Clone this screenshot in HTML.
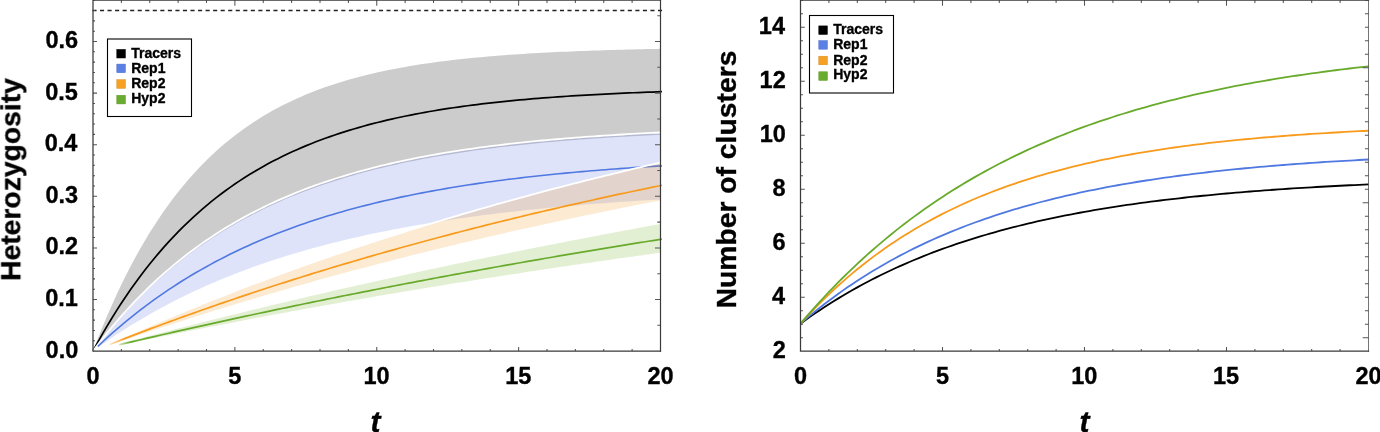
<!DOCTYPE html>
<html><head><meta charset="utf-8"><style>
html,body{margin:0;padding:0;background:#fff;width:1380px;height:432px;overflow:hidden}
svg{display:block}
text{font-family:"Liberation Sans",sans-serif}
</style></head><body>
<svg width="1380" height="432" viewBox="0 0 1380 432">
<rect width="1380" height="432" fill="#fff"/>
<g>
<polygon points="93.00,351.00 97.73,338.76 102.46,327.01 107.19,315.73 111.92,304.91 116.65,294.52 121.38,284.55 126.10,274.98 130.83,265.80 135.56,256.98 140.29,248.52 145.02,240.40 149.75,232.61 154.48,225.13 159.21,217.95 163.94,211.06 168.67,204.44 173.40,198.10 178.12,192.00 182.85,186.16 187.58,180.55 192.31,175.16 197.04,169.99 201.77,165.03 206.50,160.27 211.23,155.70 215.96,151.31 220.69,147.10 225.42,143.06 230.15,139.18 234.88,135.46 239.60,131.88 244.33,128.46 249.06,125.16 253.79,122.01 258.52,118.97 263.25,116.06 267.98,113.27 272.71,110.59 277.44,108.02 282.17,105.55 286.90,103.18 291.62,100.90 296.35,98.72 301.08,96.63 305.81,94.62 310.54,92.69 315.27,90.83 320.00,89.05 324.73,87.35 329.46,85.71 334.19,84.14 338.92,82.63 343.65,81.18 348.38,79.79 353.10,78.46 357.83,77.18 362.56,75.95 367.29,74.77 372.02,73.64 376.75,72.55 381.48,71.51 386.21,70.51 390.94,69.55 395.67,68.63 400.40,67.74 405.12,66.89 409.85,66.08 414.58,65.29 419.31,64.54 424.04,63.82 428.77,63.13 433.50,62.47 438.23,61.83 442.96,61.22 447.69,60.63 452.42,60.07 457.15,59.53 461.88,59.01 466.60,58.51 471.33,58.03 476.06,57.57 480.79,57.13 485.52,56.71 490.25,56.31 494.98,55.92 499.71,55.54 504.44,55.18 509.17,54.84 513.90,54.51 518.62,54.19 523.35,53.89 528.08,53.60 532.81,53.32 537.54,53.05 542.27,52.79 547.00,52.54 551.73,52.30 556.46,52.07 561.19,51.86 565.92,51.65 570.65,51.44 575.38,51.25 580.10,51.06 584.83,50.89 589.56,50.71 594.29,50.55 599.02,50.39 603.75,50.24 608.48,50.09 613.21,49.96 617.94,49.82 622.67,49.69 627.40,49.57 632.12,49.45 636.85,49.34 641.58,49.23 646.31,49.12 651.04,49.02 655.77,48.93 660.50,48.83 660.50,134.78 655.77,135.00 651.04,135.23 646.31,135.47 641.58,135.71 636.85,135.96 632.12,136.22 627.40,136.49 622.67,136.76 617.94,137.04 613.21,137.33 608.48,137.62 603.75,137.93 599.02,138.24 594.29,138.56 589.56,138.89 584.83,139.23 580.10,139.58 575.38,139.94 570.65,140.31 565.92,140.69 561.19,141.08 556.46,141.49 551.73,141.90 547.00,142.32 542.27,142.76 537.54,143.21 532.81,143.68 528.08,144.15 523.35,144.64 518.62,145.14 513.90,145.66 509.17,146.19 504.44,146.74 499.71,147.30 494.98,147.88 490.25,148.48 485.52,149.09 480.79,149.72 476.06,150.36 471.33,151.03 466.60,151.71 461.88,152.42 457.15,153.14 452.42,153.88 447.69,154.65 442.96,155.43 438.23,156.24 433.50,157.07 428.77,157.93 424.04,158.81 419.31,159.71 414.58,160.64 409.85,161.60 405.12,162.58 400.40,163.59 395.67,164.63 390.94,165.70 386.21,166.80 381.48,167.93 376.75,169.09 372.02,170.28 367.29,171.51 362.56,172.77 357.83,174.07 353.10,175.41 348.38,176.78 343.65,178.19 338.92,179.64 334.19,181.13 329.46,182.67 324.73,184.25 320.00,185.87 315.27,187.54 310.54,189.25 305.81,191.02 301.08,192.83 296.35,194.69 291.62,196.61 286.90,198.58 282.17,200.61 277.44,202.69 272.71,204.84 267.98,207.04 263.25,209.30 258.52,211.63 253.79,214.03 249.06,216.49 244.33,219.02 239.60,221.62 234.88,224.29 230.15,227.04 225.42,229.87 220.69,232.78 215.96,235.77 211.23,238.84 206.50,242.00 201.77,245.24 197.04,248.58 192.31,252.02 187.58,255.54 182.85,259.17 178.12,262.90 173.40,266.73 168.67,270.67 163.94,274.72 159.21,278.89 154.48,283.17 149.75,287.57 145.02,292.09 140.29,296.74 135.56,301.52 130.83,306.43 126.10,311.48 121.38,316.67 116.65,322.01 111.92,327.49 107.19,333.13 102.46,338.92 97.73,344.88 93.00,351.00" fill="#000" fill-opacity="0.2"/>
<polyline points="93.00,351.00 97.74,342.32 102.48,333.93 107.22,325.81 111.96,317.96 116.70,310.36 121.45,303.02 126.19,295.92 130.93,289.05 135.67,282.41 140.41,275.98 145.15,269.77 149.89,263.76 154.63,257.95 159.37,252.33 164.11,246.89 168.86,241.63 173.60,236.55 178.34,231.63 183.08,226.87 187.82,222.27 192.56,217.82 197.30,213.52 202.04,209.36 206.78,205.34 211.52,201.44 216.27,197.68 221.01,194.04 225.75,190.52 230.49,187.11 235.23,183.82 239.97,180.64 244.71,177.56 249.45,174.58 254.19,171.70 258.93,168.91 263.68,166.21 268.42,163.61 273.16,161.09 277.90,158.65 282.64,156.29 287.38,154.01 292.12,151.81 296.86,149.67 301.60,147.61 306.34,145.62 311.09,143.69 315.83,141.82 320.57,140.02 325.31,138.27 330.05,136.58 334.79,134.95 339.53,133.37 344.27,131.84 349.01,130.37 353.75,128.94 358.50,127.56 363.24,126.22 367.98,124.93 372.72,123.68 377.46,122.47 382.20,121.30 386.94,120.17 391.68,119.08 396.42,118.02 401.16,117.00 405.91,116.01 410.65,115.06 415.39,114.13 420.13,113.24 424.87,112.37 429.61,111.53 434.35,110.72 439.09,109.94 443.83,109.19 448.57,108.45 453.32,107.75 458.06,107.06 462.80,106.40 467.54,105.76 472.28,105.14 477.02,104.54 481.76,103.96 486.50,103.40 491.24,102.86 495.98,102.33 500.73,101.83 505.47,101.34 510.21,100.86 514.95,100.40 519.69,99.96 524.43,99.53 529.17,99.12 533.91,98.72 538.65,98.33 543.39,97.95 548.13,97.59 552.88,97.24 557.62,96.90 562.36,96.57 567.10,96.25 571.84,95.95 576.58,95.65 581.32,95.36 586.06,95.08 590.80,94.82 595.54,94.56 600.29,94.30 605.03,94.06 609.77,93.83 614.51,93.60 619.25,93.38 623.99,93.17 628.73,92.96 633.47,92.76 638.21,92.57 642.95,92.38 647.70,92.20 652.44,92.03 657.18,91.86 661.92,91.70" fill="none" stroke="#000" stroke-width="1.7"/>
<polygon points="97.82,344.63 102.51,338.62 107.20,332.77 111.89,327.07 116.58,321.54 121.27,316.15 125.96,310.91 130.65,305.82 135.34,300.86 140.02,296.05 144.71,291.36 149.40,286.80 154.09,282.36 158.78,278.05 163.47,273.85 168.16,269.77 172.85,265.80 177.54,261.94 182.23,258.19 186.91,254.53 191.60,250.98 196.29,247.53 200.98,244.16 205.67,240.90 210.36,237.72 215.05,234.62 219.74,231.61 224.43,228.69 229.11,225.84 233.80,223.07 238.49,220.38 243.18,217.76 247.87,215.22 252.56,212.74 257.25,210.33 261.94,207.99 266.63,205.71 271.32,203.49 276.00,201.33 280.69,199.23 285.38,197.19 290.07,195.21 294.76,193.28 299.45,191.40 304.14,189.57 308.83,187.80 313.52,186.07 318.21,184.39 322.89,182.75 327.58,181.16 332.27,179.62 336.96,178.11 341.65,176.65 346.34,175.23 351.03,173.84 355.72,172.50 360.41,171.19 365.09,169.92 369.78,168.68 374.47,167.47 379.16,166.30 383.85,165.16 388.54,164.05 393.23,162.97 397.92,161.92 402.61,160.90 407.30,159.91 411.98,158.95 416.67,158.01 421.36,157.09 426.05,156.21 430.74,155.34 435.43,154.50 440.12,153.68 444.81,152.89 449.50,152.12 454.19,151.36 458.87,150.63 463.56,149.92 468.25,149.23 472.94,148.56 477.63,147.90 482.32,147.26 487.01,146.65 491.70,146.04 496.39,145.46 501.08,144.89 505.76,144.33 510.45,143.79 515.14,143.27 519.83,142.76 524.52,142.26 529.21,141.78 533.90,141.31 538.59,140.85 543.28,140.41 547.96,139.98 552.65,139.56 557.34,139.15 562.03,138.75 566.72,138.37 571.41,137.99 576.10,137.62 580.79,137.27 585.48,136.92 590.17,136.59 594.85,136.26 599.54,135.94 604.23,135.63 608.92,135.33 613.61,135.04 618.30,134.75 622.99,134.47 627.68,134.20 632.37,133.94 637.06,133.69 641.74,133.44 646.43,133.20 651.12,132.96 655.81,132.73 660.50,132.51 660.50,199.39 655.81,199.67 651.12,199.95 646.43,200.24 641.74,200.54 637.06,200.84 632.37,201.15 627.68,201.47 622.99,201.79 618.30,202.12 613.61,202.45 608.92,202.80 604.23,203.15 599.54,203.51 594.85,203.87 590.17,204.24 585.48,204.62 580.79,205.01 576.10,205.41 571.41,205.82 566.72,206.23 562.03,206.65 557.34,207.09 552.65,207.53 547.96,207.98 543.28,208.44 538.59,208.90 533.90,209.38 529.21,209.87 524.52,210.37 519.83,210.88 515.14,211.40 510.45,211.94 505.76,212.48 501.08,213.03 496.39,213.60 491.70,214.18 487.01,214.77 482.32,215.37 477.63,215.98 472.94,216.61 468.25,217.25 463.56,217.91 458.87,218.58 454.19,219.26 449.50,219.96 444.81,220.67 440.12,221.40 435.43,222.14 430.74,222.90 426.05,223.67 421.36,224.46 416.67,225.27 411.98,226.09 407.30,226.93 402.61,227.79 397.92,228.67 393.23,229.56 388.54,230.48 383.85,231.41 379.16,232.36 374.47,233.34 369.78,234.33 365.09,235.35 360.41,236.38 355.72,237.44 351.03,238.52 346.34,239.62 341.65,240.75 336.96,241.90 332.27,243.07 327.58,244.27 322.89,245.49 318.21,246.74 313.52,248.02 308.83,249.32 304.14,250.65 299.45,252.01 294.76,253.40 290.07,254.81 285.38,256.26 280.69,257.74 276.00,259.24 271.32,260.78 266.63,262.35 261.94,263.96 257.25,265.60 252.56,267.27 247.87,268.98 243.18,270.72 238.49,272.50 233.80,274.32 229.11,276.18 224.43,278.07 219.74,280.01 215.05,281.99 210.36,284.00 205.67,286.06 200.98,288.17 196.29,290.32 191.60,292.51 186.91,294.75 182.23,297.04 177.54,299.37 172.85,301.76 168.16,304.19 163.47,306.68 158.78,309.21 154.09,311.80 149.40,314.45 144.71,317.15 140.02,319.91 135.34,322.73 130.65,325.60 125.96,328.54 121.27,331.54 116.58,334.60 111.89,337.73 107.20,340.92 102.51,344.18 97.82,347.50" fill="#5f73e1" fill-opacity="0.2"/>
<polyline points="93.00,351.00 97.73,344.76 102.46,338.69 107.19,332.78 111.92,327.04 116.65,321.46 121.38,316.03 126.10,310.75 130.83,305.62 135.56,300.63 140.29,295.77 145.02,291.05 149.75,286.46 154.48,282.00 159.21,277.66 163.94,273.44 168.67,269.34 173.40,265.35 178.12,261.46 182.85,257.69 187.58,254.02 192.31,250.45 197.04,246.98 201.77,243.61 206.50,240.33 211.23,237.14 215.96,234.03 220.69,231.01 225.42,228.08 230.15,225.23 234.88,222.45 239.60,219.75 244.33,217.13 249.06,214.58 253.79,212.10 258.52,209.69 263.25,207.34 267.98,205.06 272.71,202.84 277.44,200.68 282.17,198.59 286.90,196.55 291.62,194.56 296.35,192.63 301.08,190.76 305.81,188.93 310.54,187.16 315.27,185.44 320.00,183.76 324.73,182.13 329.46,180.54 334.19,179.00 338.92,177.50 343.65,176.04 348.38,174.62 353.10,173.24 357.83,171.90 362.56,170.60 367.29,169.33 372.02,168.10 376.75,166.90 381.48,165.73 386.21,164.60 390.94,163.50 395.67,162.42 400.40,161.38 405.12,160.37 409.85,159.38 414.58,158.42 419.31,157.49 424.04,156.58 428.77,155.70 433.50,154.84 438.23,154.01 442.96,153.20 447.69,152.41 452.42,151.65 457.15,150.90 461.88,150.18 466.60,149.47 471.33,148.79 476.06,148.12 480.79,147.47 485.52,146.84 490.25,146.23 494.98,145.63 499.71,145.05 504.44,144.49 509.17,143.94 513.90,143.41 518.62,142.89 523.35,142.39 528.08,141.90 532.81,141.42 537.54,140.96 542.27,140.50 547.00,140.07 551.73,139.64 556.46,139.23 561.19,138.82 565.92,138.43 570.65,138.05 575.38,137.68 580.10,137.32 584.83,136.97 589.56,136.63 594.29,136.30 599.02,135.98 603.75,135.66 608.48,135.36 613.21,135.06 617.94,134.77 622.67,134.49 627.40,134.22 632.12,133.96 636.85,133.70 641.58,133.45 646.31,133.20 651.04,132.97 655.77,132.74 660.50,132.51" fill="none" stroke="#fff" stroke-width="1.8"/>
<polyline points="97.82,346.37 102.52,341.97 107.23,337.67 111.93,333.46 116.63,329.36 121.33,325.34 126.03,321.42 130.73,317.59 135.43,313.84 140.13,310.18 144.83,306.61 149.53,303.12 154.23,299.70 158.93,296.37 163.63,293.11 168.34,289.92 173.04,286.81 177.74,283.77 182.44,280.80 187.14,277.89 191.84,275.06 196.54,272.29 201.24,269.58 205.94,266.93 210.64,264.34 215.34,261.82 220.04,259.35 224.75,256.93 229.45,254.58 234.15,252.27 238.85,250.02 243.55,247.82 248.25,245.67 252.95,243.57 257.65,241.52 262.35,239.52 267.05,237.56 271.75,235.64 276.45,233.77 281.15,231.95 285.86,230.16 290.56,228.41 295.26,226.71 299.96,225.04 304.66,223.42 309.36,221.82 314.06,220.27 318.76,218.75 323.46,217.27 328.16,215.82 332.86,214.40 337.56,213.01 342.26,211.66 346.97,210.34 351.67,209.05 356.37,207.79 361.07,206.55 365.77,205.35 370.47,204.17 375.17,203.02 379.87,201.89 384.57,200.80 389.27,199.72 393.97,198.67 398.67,197.65 403.38,196.65 408.08,195.67 412.78,194.71 417.48,193.78 422.18,192.86 426.88,191.97 431.58,191.10 436.28,190.25 440.98,189.42 445.68,188.60 450.38,187.81 455.08,187.03 459.78,186.27 464.49,185.53 469.19,184.81 473.89,184.10 478.59,183.41 483.29,182.73 487.99,182.07 492.69,181.43 497.39,180.80 502.09,180.18 506.79,179.58 511.49,178.99 516.19,178.42 520.89,177.85 525.60,177.31 530.30,176.77 535.00,176.25 539.70,175.73 544.40,175.23 549.10,174.74 553.80,174.27 558.50,173.80 563.20,173.34 567.90,172.90 572.60,172.46 577.30,172.04 582.01,171.62 586.71,171.22 591.41,170.82 596.11,170.43 600.81,170.05 605.51,169.68 610.21,169.32 614.91,168.97 619.61,168.62 624.31,168.28 629.01,167.95 633.71,167.63 638.41,167.32 643.12,167.01 647.82,166.71 652.52,166.41 657.22,166.13 661.92,165.85" fill="none" stroke="#4f78e0" stroke-width="1.6"/>
<polygon points="110.03,343.26 114.61,341.21 119.20,339.16 123.79,337.12 128.37,335.10 132.96,333.09 137.55,331.09 142.14,329.10 146.72,327.12 151.31,325.15 155.90,323.19 160.49,321.25 165.07,319.31 169.66,317.39 174.25,315.47 178.83,313.57 183.42,311.67 188.01,309.79 192.60,307.92 197.18,306.06 201.77,304.21 206.36,302.36 210.95,300.53 215.53,298.71 220.12,296.90 224.71,295.10 229.29,293.31 233.88,291.53 238.47,289.76 243.06,287.99 247.64,286.24 252.23,284.50 256.82,282.77 261.41,281.05 265.99,279.33 270.58,277.63 275.17,275.93 279.75,274.25 284.34,272.57 288.93,270.91 293.52,269.25 298.10,267.60 302.69,265.96 307.28,264.33 311.87,262.71 316.45,261.10 321.04,259.50 325.63,257.90 330.21,256.32 334.80,254.74 339.39,253.17 343.98,251.61 348.56,250.06 353.15,248.52 357.74,246.99 362.33,245.46 366.91,243.95 371.50,242.44 376.09,240.94 380.68,239.45 385.26,237.97 389.85,236.49 394.44,235.02 399.02,233.57 403.61,232.11 408.20,230.67 412.79,229.24 417.37,227.81 421.96,226.39 426.55,224.98 431.14,223.58 435.72,222.18 440.31,220.79 444.90,219.41 449.48,218.04 454.07,216.68 458.66,215.32 463.25,213.97 467.83,212.63 472.42,211.29 477.01,209.97 481.60,208.65 486.18,207.33 490.77,206.03 495.36,204.73 499.94,203.44 504.53,202.16 509.12,200.88 513.71,199.61 518.29,198.35 522.88,197.09 527.47,195.84 532.06,194.60 536.64,193.36 541.23,192.14 545.82,190.91 550.40,189.70 554.99,188.49 559.58,187.29 564.17,186.10 568.75,184.91 573.34,183.73 577.93,182.55 582.52,181.38 587.10,180.22 591.69,179.07 596.28,177.92 600.87,176.77 605.45,175.64 610.04,174.51 614.63,173.38 619.21,172.27 623.80,171.15 628.39,170.05 632.98,168.95 637.56,167.86 642.15,166.77 646.74,165.69 651.33,164.61 655.91,163.54 660.50,162.48 660.50,200.40 655.91,201.28 651.33,202.17 646.74,203.07 642.15,203.97 637.56,204.87 632.98,205.78 628.39,206.70 623.80,207.61 619.21,208.54 614.63,209.46 610.04,210.39 605.45,211.33 600.87,212.27 596.28,213.22 591.69,214.17 587.10,215.12 582.52,216.08 577.93,217.04 573.34,218.01 568.75,218.99 564.17,219.97 559.58,220.95 554.99,221.94 550.40,222.93 545.82,223.93 541.23,224.93 536.64,225.94 532.06,226.95 527.47,227.97 522.88,228.99 518.29,230.02 513.71,231.05 509.12,232.09 504.53,233.13 499.94,234.18 495.36,235.23 490.77,236.29 486.18,237.35 481.60,238.42 477.01,239.50 472.42,240.58 467.83,241.66 463.25,242.75 458.66,243.85 454.07,244.95 449.48,246.05 444.90,247.17 440.31,248.28 435.72,249.41 431.14,250.53 426.55,251.67 421.96,252.81 417.37,253.95 412.79,255.10 408.20,256.26 403.61,257.42 399.02,258.59 394.44,259.76 389.85,260.94 385.26,262.13 380.68,263.32 376.09,264.51 371.50,265.72 366.91,266.93 362.33,268.14 357.74,269.36 353.15,270.59 348.56,271.82 343.98,273.06 339.39,274.30 334.80,275.55 330.21,276.81 325.63,278.07 321.04,279.34 316.45,280.62 311.87,281.90 307.28,283.19 302.69,284.48 298.10,285.79 293.52,287.09 288.93,288.41 284.34,289.73 279.75,291.05 275.17,292.39 270.58,293.73 265.99,295.07 261.41,296.43 256.82,297.79 252.23,299.15 247.64,300.53 243.06,301.91 238.47,303.29 233.88,304.69 229.29,306.09 224.71,307.49 220.12,308.91 215.53,310.33 210.95,311.76 206.36,313.19 201.77,314.64 197.18,316.09 192.60,317.54 188.01,319.01 183.42,320.48 178.83,321.96 174.25,323.44 169.66,324.93 165.07,326.43 160.49,327.94 155.90,329.46 151.31,330.98 146.72,332.51 142.14,334.05 137.55,335.59 132.96,337.15 128.37,338.71 123.79,340.27 119.20,341.85 114.61,343.43 110.03,345.02" fill="#f09b1e" fill-opacity="0.2"/>
<polyline points="110.03,343.26 114.61,341.21 119.20,339.16 123.79,337.12 128.37,335.10 132.96,333.09 137.55,331.09 142.14,329.10 146.72,327.12 151.31,325.15 155.90,323.19 160.49,321.25 165.07,319.31 169.66,317.39 174.25,315.47 178.83,313.57 183.42,311.67 188.01,309.79 192.60,307.92 197.18,306.06 201.77,304.21 206.36,302.36 210.95,300.53 215.53,298.71 220.12,296.90 224.71,295.10 229.29,293.31 233.88,291.53 238.47,289.76 243.06,287.99 247.64,286.24 252.23,284.50 256.82,282.77 261.41,281.05 265.99,279.33 270.58,277.63 275.17,275.93 279.75,274.25 284.34,272.57 288.93,270.91 293.52,269.25 298.10,267.60 302.69,265.96 307.28,264.33 311.87,262.71 316.45,261.10 321.04,259.50 325.63,257.90 330.21,256.32 334.80,254.74 339.39,253.17 343.98,251.61 348.56,250.06 353.15,248.52 357.74,246.99 362.33,245.46 366.91,243.95 371.50,242.44 376.09,240.94 380.68,239.45 385.26,237.97 389.85,236.49 394.44,235.02 399.02,233.57 403.61,232.11 408.20,230.67 412.79,229.24 417.37,227.81 421.96,226.39 426.55,224.98 431.14,223.58 435.72,222.18 440.31,220.79 444.90,219.41 449.48,218.04 454.07,216.68 458.66,215.32 463.25,213.97 467.83,212.63 472.42,211.29 477.01,209.97 481.60,208.65 486.18,207.33 490.77,206.03 495.36,204.73 499.94,203.44 504.53,202.16 509.12,200.88 513.71,199.61 518.29,198.35 522.88,197.09 527.47,195.84 532.06,194.60 536.64,193.36 541.23,192.14 545.82,190.91 550.40,189.70 554.99,188.49 559.58,187.29 564.17,186.10 568.75,184.91 573.34,183.73 577.93,182.55 582.52,181.38 587.10,180.22 591.69,179.07 596.28,177.92 600.87,176.77 605.45,175.64 610.04,174.51 614.63,173.38 619.21,172.27 623.80,171.15 628.39,170.05 632.98,168.95 637.56,167.86 642.15,166.77 646.74,165.69 651.33,164.61 655.91,163.54 660.50,162.48" fill="none" stroke="#fff" stroke-width="1.8"/>
<defs><linearGradient id="go" gradientUnits="userSpaceOnUse" x1="110.0" y1="0" x2="125.0" y2="0"><stop offset="0" stop-color="#f89a1c" stop-opacity="0.15"/><stop offset="1" stop-color="#f89a1c" stop-opacity="1"/></linearGradient><linearGradient id="gg" gradientUnits="userSpaceOnUse" x1="119.1" y1="0" x2="131.1" y2="0"><stop offset="0" stop-color="#68aa2c" stop-opacity="0.15"/><stop offset="1" stop-color="#68aa2c" stop-opacity="1"/></linearGradient></defs>
<polyline points="110.03,344.26 114.62,342.46 119.22,340.67 123.82,338.89 128.42,337.12 133.02,335.36 137.62,333.61 142.22,331.87 146.82,330.14 151.42,328.41 156.02,326.70 160.62,325.00 165.21,323.30 169.81,321.62 174.41,319.94 179.01,318.27 183.61,316.62 188.21,314.97 192.81,313.33 197.41,311.70 202.01,310.07 206.61,308.46 211.21,306.86 215.80,305.26 220.40,303.67 225.00,302.09 229.60,300.52 234.20,298.96 238.80,297.41 243.40,295.86 248.00,294.33 252.60,292.80 257.20,291.28 261.80,289.77 266.39,288.27 270.99,286.77 275.59,285.28 280.19,283.81 284.79,282.33 289.39,280.87 293.99,279.42 298.59,277.97 303.19,276.53 307.79,275.10 312.39,273.67 316.99,272.26 321.58,270.85 326.18,269.45 330.78,268.06 335.38,266.67 339.98,265.29 344.58,263.92 349.18,262.56 353.78,261.20 358.38,259.86 362.98,258.52 367.58,257.18 372.17,255.85 376.77,254.54 381.37,253.22 385.97,251.92 390.57,250.62 395.17,249.33 399.77,248.05 404.37,246.77 408.97,245.50 413.57,244.24 418.17,242.98 422.76,241.73 427.36,240.49 431.96,239.25 436.56,238.02 441.16,236.80 445.76,235.58 450.36,234.37 454.96,233.17 459.56,231.98 464.16,230.79 468.76,229.60 473.36,228.43 477.95,227.25 482.55,226.09 487.15,224.93 491.75,223.78 496.35,222.64 500.95,221.50 505.55,220.36 510.15,219.24 514.75,218.12 519.35,217.00 523.95,215.89 528.54,214.79 533.14,213.69 537.74,212.60 542.34,211.52 546.94,210.44 551.54,209.37 556.14,208.30 560.74,207.24 565.34,206.18 569.94,205.13 574.54,204.09 579.13,203.05 583.73,202.02 588.33,200.99 592.93,199.97 597.53,198.95 602.13,197.94 606.73,196.94 611.33,195.94 615.93,194.94 620.53,193.95 625.13,192.97 629.72,191.99 634.32,191.02 638.92,190.05 643.52,189.09 648.12,188.13 652.72,187.18 657.32,186.23 661.92,185.29" fill="none" stroke="url(#go)" stroke-width="1.7"/>
<polygon points="119.11,343.96 123.62,342.75 128.13,341.55 132.64,340.36 137.15,339.16 141.66,337.98 146.17,336.79 150.69,335.61 155.20,334.43 159.71,333.26 164.22,332.09 168.73,330.92 173.24,329.76 177.76,328.60 182.27,327.45 186.78,326.30 191.29,325.15 195.80,324.01 200.31,322.87 204.83,321.73 209.34,320.60 213.85,319.47 218.36,318.34 222.87,317.22 227.38,316.11 231.90,314.99 236.41,313.88 240.92,312.77 245.43,311.67 249.94,310.57 254.45,309.47 258.97,308.38 263.48,307.29 267.99,306.20 272.50,305.12 277.01,304.04 281.52,302.97 286.04,301.90 290.55,300.83 295.06,299.76 299.57,298.70 304.08,297.64 308.59,296.59 313.10,295.54 317.62,294.49 322.13,293.44 326.64,292.40 331.15,291.36 335.66,290.33 340.17,289.30 344.69,288.27 349.20,287.24 353.71,286.22 358.22,285.20 362.73,284.19 367.24,283.18 371.76,282.17 376.27,281.16 380.78,280.16 385.29,279.16 389.80,278.17 394.31,277.18 398.83,276.19 403.34,275.20 407.85,274.22 412.36,273.24 416.87,272.26 421.38,271.29 425.90,270.32 430.41,269.35 434.92,268.39 439.43,267.43 443.94,266.47 448.45,265.52 452.97,264.57 457.48,263.62 461.99,262.67 466.50,261.73 471.01,260.79 475.52,259.85 480.03,258.92 484.55,257.99 489.06,257.06 493.57,256.14 498.08,255.22 502.59,254.30 507.10,253.38 511.62,252.47 516.13,251.56 520.64,250.66 525.15,249.75 529.66,248.85 534.17,247.95 538.69,247.06 543.20,246.17 547.71,245.28 552.22,244.39 556.73,243.51 561.24,242.63 565.76,241.75 570.27,240.87 574.78,240.00 579.29,239.13 583.80,238.27 588.31,237.40 592.83,236.54 597.34,235.68 601.85,234.83 606.36,233.98 610.87,233.13 615.38,232.28 619.90,231.43 624.41,230.59 628.92,229.75 633.43,228.92 637.94,228.08 642.45,227.25 646.97,226.42 651.48,225.60 655.99,224.78 660.50,223.96 660.50,252.73 655.99,253.34 651.48,253.96 646.97,254.59 642.45,255.21 637.94,255.84 633.43,256.46 628.92,257.10 624.41,257.73 619.90,258.36 615.38,259.00 610.87,259.64 606.36,260.28 601.85,260.93 597.34,261.58 592.83,262.23 588.31,262.88 583.80,263.53 579.29,264.19 574.78,264.85 570.27,265.51 565.76,266.17 561.24,266.84 556.73,267.51 552.22,268.18 547.71,268.85 543.20,269.53 538.69,270.21 534.17,270.89 529.66,271.57 525.15,272.26 520.64,272.94 516.13,273.64 511.62,274.33 507.10,275.02 502.59,275.72 498.08,276.42 493.57,277.13 489.06,277.83 484.55,278.54 480.03,279.25 475.52,279.97 471.01,280.68 466.50,281.40 461.99,282.13 457.48,282.85 452.97,283.58 448.45,284.31 443.94,285.04 439.43,285.77 434.92,286.51 430.41,287.25 425.90,287.99 421.38,288.74 416.87,289.49 412.36,290.24 407.85,290.99 403.34,291.75 398.83,292.51 394.31,293.27 389.80,294.04 385.29,294.80 380.78,295.58 376.27,296.35 371.76,297.13 367.24,297.90 362.73,298.69 358.22,299.47 353.71,300.26 349.20,301.05 344.69,301.84 340.17,302.64 335.66,303.44 331.15,304.24 326.64,305.04 322.13,305.85 317.62,306.66 313.10,307.48 308.59,308.29 304.08,309.11 299.57,309.94 295.06,310.76 290.55,311.59 286.04,312.42 281.52,313.26 277.01,314.10 272.50,314.94 267.99,315.78 263.48,316.63 258.97,317.48 254.45,318.33 249.94,319.19 245.43,320.05 240.92,320.91 236.41,321.77 231.90,322.64 227.38,323.52 222.87,324.39 218.36,325.27 213.85,326.15 209.34,327.04 204.83,327.92 200.31,328.81 195.80,329.71 191.29,330.61 186.78,331.51 182.27,332.41 177.76,333.32 173.24,334.23 168.73,335.15 164.22,336.06 159.71,336.98 155.20,337.91 150.69,338.84 146.17,339.77 141.66,340.70 137.15,341.64 132.64,342.58 128.13,343.53 123.62,344.47 119.11,345.43" fill="#6eaf23" fill-opacity="0.2"/>
<polyline points="119.11,344.77 123.63,343.70 128.15,342.63 132.68,341.57 137.20,340.52 141.72,339.46 146.25,338.41 150.77,337.37 155.29,336.32 159.82,335.28 164.34,334.25 168.86,333.21 173.39,332.19 177.91,331.16 182.43,330.14 186.96,329.12 191.48,328.10 196.00,327.09 200.53,326.08 205.05,325.08 209.57,324.08 214.10,323.08 218.62,322.08 223.14,321.09 227.67,320.10 232.19,319.12 236.71,318.13 241.24,317.16 245.76,316.18 250.28,315.21 254.81,314.24 259.33,313.27 263.86,312.31 268.38,311.35 272.90,310.40 277.43,309.44 281.95,308.49 286.47,307.55 291.00,306.60 295.52,305.66 300.04,304.73 304.57,303.79 309.09,302.86 313.61,301.94 318.14,301.01 322.66,300.09 327.18,299.17 331.71,298.26 336.23,297.34 340.75,296.44 345.28,295.53 349.80,294.63 354.32,293.73 358.85,292.83 363.37,291.94 367.89,291.05 372.42,290.16 376.94,289.27 381.46,288.39 385.99,287.51 390.51,286.64 395.04,285.76 399.56,284.89 404.08,284.03 408.61,283.16 413.13,282.30 417.65,281.44 422.18,280.58 426.70,279.73 431.22,278.88 435.75,278.03 440.27,277.19 444.79,276.35 449.32,275.51 453.84,274.67 458.36,273.84 462.89,273.01 467.41,272.18 471.93,271.36 476.46,270.54 480.98,269.72 485.50,268.90 490.03,268.09 494.55,267.28 499.07,266.47 503.60,265.66 508.12,264.86 512.64,264.06 517.17,263.26 521.69,262.47 526.22,261.68 530.74,260.89 535.26,260.10 539.79,259.32 544.31,258.53 548.83,257.75 553.36,256.98 557.88,256.20 562.40,255.43 566.93,254.67 571.45,253.90 575.97,253.14 580.50,252.37 585.02,251.62 589.54,250.86 594.07,250.11 598.59,249.36 603.11,248.61 607.64,247.86 612.16,247.12 616.68,246.38 621.21,245.64 625.73,244.90 630.25,244.17 634.78,243.44 639.30,242.71 643.82,241.99 648.35,241.26 652.87,240.54 657.40,239.82 661.92,239.11" fill="none" stroke="url(#gg)" stroke-width="1.7"/>
<line x1="92.46" y1="10.5" x2="662.6" y2="10.5" stroke="#222" stroke-width="1.3" stroke-dasharray="4.1 3.44"/>
</g>
<polyline points="800.50,323.65 805.23,320.23 809.97,316.88 814.70,313.61 819.43,310.42 824.17,307.30 828.90,304.25 833.63,301.28 838.37,298.37 843.10,295.53 847.83,292.75 852.57,290.04 857.30,287.39 862.03,284.81 866.77,282.28 871.50,279.81 876.23,277.40 880.97,275.04 885.70,272.74 890.43,270.49 895.17,268.30 899.90,266.15 904.63,264.06 909.37,262.01 914.10,260.01 918.83,258.05 923.57,256.14 928.30,254.28 933.03,252.46 937.77,250.68 942.50,248.94 947.23,247.24 951.97,245.58 956.70,243.96 961.43,242.38 966.17,240.83 970.90,239.32 975.63,237.84 980.37,236.40 985.10,234.99 989.83,233.62 994.57,232.27 999.30,230.96 1004.03,229.67 1008.77,228.42 1013.50,227.20 1018.23,226.00 1022.97,224.83 1027.70,223.69 1032.43,222.58 1037.17,221.49 1041.90,220.42 1046.63,219.38 1051.37,218.37 1056.10,217.37 1060.83,216.40 1065.57,215.46 1070.30,214.53 1075.03,213.63 1079.77,212.75 1084.50,211.88 1089.23,211.04 1093.97,210.22 1098.70,209.42 1103.43,208.63 1108.17,207.86 1112.90,207.11 1117.63,206.38 1122.37,205.67 1127.10,204.97 1131.83,204.28 1136.57,203.62 1141.30,202.97 1146.03,202.33 1150.77,201.71 1155.50,201.10 1160.23,200.51 1164.97,199.93 1169.70,199.36 1174.43,198.81 1179.17,198.27 1183.90,197.74 1188.63,197.23 1193.37,196.72 1198.10,196.23 1202.83,195.75 1207.57,195.28 1212.30,194.82 1217.03,194.37 1221.77,193.94 1226.50,193.51 1231.23,193.09 1235.97,192.68 1240.70,192.28 1245.43,191.89 1250.17,191.51 1254.90,191.14 1259.63,190.78 1264.37,190.42 1269.10,190.08 1273.83,189.74 1278.57,189.41 1283.30,189.08 1288.03,188.77 1292.77,188.46 1297.50,188.16 1302.23,187.87 1306.97,187.58 1311.70,187.30 1316.43,187.02 1321.17,186.75 1325.90,186.49 1330.63,186.24 1335.37,185.99 1340.10,185.74 1344.83,185.51 1349.57,185.27 1354.30,185.04 1359.03,184.82 1363.77,184.61 1368.50,184.39" fill="none" stroke="#000" stroke-width="1.8"/>
<polyline points="800.50,323.65 805.23,319.60 809.97,315.63 814.70,311.77 819.43,307.99 824.17,304.30 828.90,300.69 833.63,297.17 838.37,293.73 843.10,290.37 847.83,287.09 852.57,283.88 857.30,280.75 862.03,277.69 866.77,274.71 871.50,271.79 876.23,268.94 880.97,266.16 885.70,263.44 890.43,260.78 895.17,258.19 899.90,255.65 904.63,253.18 909.37,250.76 914.10,248.40 918.83,246.09 923.57,243.84 928.30,241.64 933.03,239.49 937.77,237.39 942.50,235.34 947.23,233.34 951.97,231.38 956.70,229.47 961.43,227.60 966.17,225.78 970.90,224.00 975.63,222.26 980.37,220.56 985.10,218.90 989.83,217.28 994.57,215.69 999.30,214.15 1004.03,212.64 1008.77,211.16 1013.50,209.72 1018.23,208.31 1022.97,206.94 1027.70,205.59 1032.43,204.28 1037.17,203.00 1041.90,201.75 1046.63,200.53 1051.37,199.33 1056.10,198.16 1060.83,197.03 1065.57,195.91 1070.30,194.83 1075.03,193.76 1079.77,192.73 1084.50,191.71 1089.23,190.72 1093.97,189.76 1098.70,188.81 1103.43,187.89 1108.17,186.99 1112.90,186.11 1117.63,185.25 1122.37,184.41 1127.10,183.59 1131.83,182.79 1136.57,182.01 1141.30,181.24 1146.03,180.50 1150.77,179.77 1155.50,179.06 1160.23,178.36 1164.97,177.68 1169.70,177.02 1174.43,176.37 1179.17,175.74 1183.90,175.12 1188.63,174.52 1193.37,173.93 1198.10,173.35 1202.83,172.79 1207.57,172.24 1212.30,171.70 1217.03,171.17 1221.77,170.66 1226.50,170.16 1231.23,169.67 1235.97,169.20 1240.70,168.73 1245.43,168.27 1250.17,167.83 1254.90,167.39 1259.63,166.97 1264.37,166.55 1269.10,166.15 1273.83,165.75 1278.57,165.37 1283.30,164.99 1288.03,164.62 1292.77,164.26 1297.50,163.91 1302.23,163.57 1306.97,163.23 1311.70,162.90 1316.43,162.58 1321.17,162.27 1325.90,161.96 1330.63,161.67 1335.37,161.37 1340.10,161.09 1344.83,160.81 1349.57,160.54 1354.30,160.28 1359.03,160.02 1363.77,159.76 1368.50,159.52" fill="none" stroke="#4f78e0" stroke-width="1.8"/>
<polyline points="800.50,323.65 805.23,318.44 809.97,313.36 814.70,308.41 819.43,303.59 824.17,298.89 828.90,294.32 833.63,289.86 838.37,285.52 843.10,281.30 847.83,277.18 852.57,273.17 857.30,269.26 862.03,265.45 866.77,261.74 871.50,258.13 876.23,254.61 880.97,251.18 885.70,247.84 890.43,244.59 895.17,241.42 899.90,238.33 904.63,235.33 909.37,232.40 914.10,229.54 918.83,226.76 923.57,224.05 928.30,221.42 933.03,218.85 937.77,216.34 942.50,213.90 947.23,211.53 951.97,209.21 956.70,206.96 961.43,204.76 966.17,202.63 970.90,200.54 975.63,198.51 980.37,196.53 985.10,194.61 989.83,192.73 994.57,190.90 999.30,189.12 1004.03,187.39 1008.77,185.70 1013.50,184.05 1018.23,182.45 1022.97,180.89 1027.70,179.37 1032.43,177.88 1037.17,176.44 1041.90,175.03 1046.63,173.66 1051.37,172.33 1056.10,171.03 1060.83,169.76 1065.57,168.53 1070.30,167.33 1075.03,166.16 1079.77,165.02 1084.50,163.91 1089.23,162.82 1093.97,161.77 1098.70,160.74 1103.43,159.74 1108.17,158.77 1112.90,157.82 1117.63,156.89 1122.37,155.99 1127.10,155.11 1131.83,154.26 1136.57,153.43 1141.30,152.62 1146.03,151.83 1150.77,151.06 1155.50,150.31 1160.23,149.58 1164.97,148.86 1169.70,148.17 1174.43,147.50 1179.17,146.84 1183.90,146.20 1188.63,145.57 1193.37,144.96 1198.10,144.37 1202.83,143.80 1207.57,143.23 1212.30,142.69 1217.03,142.15 1221.77,141.63 1226.50,141.13 1231.23,140.63 1235.97,140.15 1240.70,139.69 1245.43,139.23 1250.17,138.79 1254.90,138.35 1259.63,137.93 1264.37,137.52 1269.10,137.12 1273.83,136.73 1278.57,136.35 1283.30,135.98 1288.03,135.62 1292.77,135.27 1297.50,134.93 1302.23,134.60 1306.97,134.27 1311.70,133.96 1316.43,133.65 1321.17,133.35 1325.90,133.06 1330.63,132.77 1335.37,132.50 1340.10,132.23 1344.83,131.96 1349.57,131.71 1354.30,131.46 1359.03,131.22 1363.77,130.98 1368.50,130.75" fill="none" stroke="#f89a1c" stroke-width="1.8"/>
<polyline points="800.50,323.65 805.23,318.11 809.97,312.68 814.70,307.35 819.43,302.13 824.17,297.00 828.90,291.98 833.63,287.06 838.37,282.23 843.10,277.50 847.83,272.86 852.57,268.31 857.30,263.85 862.03,259.47 866.77,255.18 871.50,250.98 876.23,246.85 880.97,242.81 885.70,238.85 890.43,234.96 895.17,231.15 899.90,227.41 904.63,223.75 909.37,220.15 914.10,216.63 918.83,213.18 923.57,209.79 928.30,206.47 933.03,203.22 937.77,200.02 942.50,196.90 947.23,193.83 951.97,190.82 956.70,187.87 961.43,184.98 966.17,182.14 970.90,179.36 975.63,176.63 980.37,173.96 985.10,171.34 989.83,168.77 994.57,166.25 999.30,163.78 1004.03,161.36 1008.77,158.98 1013.50,156.65 1018.23,154.37 1022.97,152.13 1027.70,149.93 1032.43,147.78 1037.17,145.67 1041.90,143.60 1046.63,141.57 1051.37,139.58 1056.10,137.63 1060.83,135.72 1065.57,133.85 1070.30,132.01 1075.03,130.20 1079.77,128.44 1084.50,126.70 1089.23,125.00 1093.97,123.34 1098.70,121.70 1103.43,120.10 1108.17,118.53 1112.90,116.99 1117.63,115.48 1122.37,114.00 1127.10,112.55 1131.83,111.13 1136.57,109.73 1141.30,108.36 1146.03,107.02 1150.77,105.71 1155.50,104.42 1160.23,103.15 1164.97,101.91 1169.70,100.70 1174.43,99.51 1179.17,98.34 1183.90,97.19 1188.63,96.07 1193.37,94.97 1198.10,93.89 1202.83,92.83 1207.57,91.79 1212.30,90.77 1217.03,89.77 1221.77,88.79 1226.50,87.83 1231.23,86.89 1235.97,85.97 1240.70,85.07 1245.43,84.18 1250.17,83.31 1254.90,82.46 1259.63,81.62 1264.37,80.80 1269.10,80.00 1273.83,79.21 1278.57,78.44 1283.30,77.68 1288.03,76.93 1292.77,76.21 1297.50,75.49 1302.23,74.79 1306.97,74.11 1311.70,73.43 1316.43,72.77 1321.17,72.12 1325.90,71.49 1330.63,70.87 1335.37,70.26 1340.10,69.66 1344.83,69.07 1349.57,68.50 1354.30,67.93 1359.03,67.38 1363.77,66.84 1368.50,66.31" fill="none" stroke="#68aa2c" stroke-width="1.8"/>
<path d="M121.38,351.10v-2.20M121.38,0.10v3.00M149.75,351.10v-2.20M149.75,0.10v3.00M178.12,351.10v-2.20M178.12,0.10v3.00M206.50,351.10v-2.20M206.50,0.10v3.00M234.88,351.10v-4.20M234.88,0.10v5.60M263.25,351.10v-2.20M263.25,0.10v3.00M291.62,351.10v-2.20M291.62,0.10v3.00M320.00,351.10v-2.20M320.00,0.10v3.00M348.38,351.10v-2.20M348.38,0.10v3.00M376.75,351.10v-4.20M376.75,0.10v5.60M405.12,351.10v-2.20M405.12,0.10v3.00M433.50,351.10v-2.20M433.50,0.10v3.00M461.88,351.10v-2.20M461.88,0.10v3.00M490.25,351.10v-2.20M490.25,0.10v3.00M518.62,351.10v-4.20M518.62,0.10v5.60M547.00,351.10v-2.20M547.00,0.10v3.00M575.38,351.10v-2.20M575.38,0.10v3.00M603.75,351.10v-2.20M603.75,0.10v3.00M632.12,351.10v-2.20M632.12,0.10v3.00M93.00,340.78h2.00M93.00,330.46h2.00M93.00,320.14h2.00M93.00,309.82h2.00M93.00,299.50h4.00M93.00,289.18h2.00M93.00,278.86h2.00M93.00,268.54h2.00M93.00,258.22h2.00M93.00,247.90h4.00M93.00,237.58h2.00M93.00,227.26h2.00M93.00,216.94h2.00M93.00,206.62h2.00M93.00,196.30h4.00M93.00,185.98h2.00M93.00,175.66h2.00M93.00,165.34h2.00M93.00,155.02h2.00M93.00,144.70h4.00M93.00,134.38h2.00M93.00,124.06h2.00M93.00,113.74h2.00M93.00,103.42h2.00M93.00,93.10h4.00M93.00,82.78h2.00M93.00,72.46h2.00M93.00,62.14h2.00M93.00,51.82h2.00M93.00,41.50h4.00M93.00,31.18h2.00M93.00,20.86h2.00M93.00,10.54h2.00M93.00,0.22h2.00M660.50,325.30h-3.20M660.50,299.50h-5.50M660.50,273.70h-3.20M660.50,247.90h-5.50M660.50,222.10h-3.20M660.50,196.30h-5.50M660.50,170.50h-3.20M660.50,144.70h-5.50M660.50,118.90h-3.20M660.50,93.10h-5.50M660.50,67.30h-3.20M660.50,41.50h-5.50M660.50,15.70h-3.20" stroke="#555" stroke-width="1.05" fill="none"/>
<path d="M92.40,0.10H661.10M92.40,351.10H661.10M93.00,-0.50V351.70" stroke="#3a3a3a" stroke-width="1.25" fill="none"/>
<path d="M660.50,-0.50V351.70" stroke="#3a3a3a" stroke-width="1.20" fill="none"/>
<path d="M828.90,351.10v-2.20M828.90,0.10v3.00M857.30,351.10v-2.20M857.30,0.10v3.00M885.70,351.10v-2.20M885.70,0.10v3.00M914.10,351.10v-2.20M914.10,0.10v3.00M942.50,351.10v-4.20M942.50,0.10v5.60M970.90,351.10v-2.20M970.90,0.10v3.00M999.30,351.10v-2.20M999.30,0.10v3.00M1027.70,351.10v-2.20M1027.70,0.10v3.00M1056.10,351.10v-2.20M1056.10,0.10v3.00M1084.50,351.10v-4.20M1084.50,0.10v5.60M1112.90,351.10v-2.20M1112.90,0.10v3.00M1141.30,351.10v-2.20M1141.30,0.10v3.00M1169.70,351.10v-2.20M1169.70,0.10v3.00M1198.10,351.10v-2.20M1198.10,0.10v3.00M1226.50,351.10v-4.20M1226.50,0.10v5.60M1254.90,351.10v-2.20M1254.90,0.10v3.00M1283.30,351.10v-2.20M1283.30,0.10v3.00M1311.70,351.10v-2.20M1311.70,0.10v3.00M1340.10,351.10v-2.20M1340.10,0.10v3.00M800.50,337.70h2.50M800.50,324.20h2.50M800.50,310.70h2.50M800.50,297.20h4.30M800.50,283.70h2.50M800.50,270.20h2.50M800.50,256.70h2.50M800.50,243.20h4.30M800.50,229.70h2.50M800.50,216.20h2.50M800.50,202.70h2.50M800.50,189.20h4.30M800.50,175.70h2.50M800.50,162.20h2.50M800.50,148.70h2.50M800.50,135.20h4.30M800.50,121.70h2.50M800.50,108.20h2.50M800.50,94.70h2.50M800.50,81.20h4.30M800.50,67.70h2.50M800.50,54.20h2.50M800.50,40.70h2.50M800.50,27.20h4.30M800.50,13.70h2.50M800.50,0.20h2.50M1368.50,337.70h-5.80M1368.50,324.20h-3.60M1368.50,310.70h-3.60M1368.50,297.20h-3.60M1368.50,283.70h-3.60M1368.50,270.20h-3.60M1368.50,256.70h-3.60M1368.50,243.20h-3.60M1368.50,229.70h-3.60M1368.50,216.20h-3.60M1368.50,202.70h-5.80M1368.50,189.20h-3.60M1368.50,175.70h-3.60M1368.50,162.20h-3.60M1368.50,148.70h-3.60M1368.50,135.20h-3.60M1368.50,121.70h-3.60M1368.50,108.20h-3.60M1368.50,94.70h-3.60M1368.50,81.20h-3.60M1368.50,67.70h-5.80M1368.50,54.20h-3.60M1368.50,40.70h-3.60M1368.50,27.20h-3.60M1368.50,13.70h-3.60M1368.50,0.20h-3.60" stroke="#555" stroke-width="1.05" fill="none"/>
<path d="M799.90,0.10H1369.10M799.90,351.10H1369.10M800.50,-0.50V351.70" stroke="#3a3a3a" stroke-width="1.25" fill="none"/>
<path d="M1368.50,-0.50V351.70" stroke="#3a3a3a" stroke-width="0.70" fill="none"/>
<g font-family="Liberation Sans, sans-serif" font-weight="bold" fill="#000" stroke="#000" stroke-width="0.35" opacity="0.999">
<text x="45.57" y="357.50" font-size="23.5">0.0</text>
<text x="45.28" y="305.90" font-size="23.5">0.1</text>
<text x="45.52" y="254.30" font-size="23.5">0.2</text>
<text x="45.46" y="202.70" font-size="23.5">0.3</text>
<text x="44.75" y="151.10" font-size="23.5">0.4</text>
<text x="45.28" y="99.50" font-size="23.5">0.5</text>
<text x="45.46" y="47.90" font-size="23.5">0.6</text>
<text x="772.64" y="357.60" font-size="23.5">2</text>
<text x="771.88" y="303.60" font-size="23.5">4</text>
<text x="772.58" y="249.60" font-size="23.5">6</text>
<text x="772.46" y="195.60" font-size="23.5">8</text>
<text x="759.65" y="141.60" font-size="23.5">10</text>
<text x="759.60" y="87.60" font-size="23.5">12</text>
<text x="758.83" y="33.60" font-size="23.5">14</text>
<text x="86.48" y="384.0" font-size="23.5">0</text>
<text x="793.98" y="384.0" font-size="23.5">0</text>
<text x="228.32" y="384.0" font-size="23.5">5</text>
<text x="935.95" y="384.0" font-size="23.5">5</text>
<text x="363.44" y="384.0" font-size="23.5">10</text>
<text x="1071.19" y="384.0" font-size="23.5">10</text>
<text x="505.17" y="384.0" font-size="23.5">15</text>
<text x="1213.05" y="384.0" font-size="23.5">15</text>
<text x="647.52" y="384.0" font-size="23.5">20</text>
<text x="1355.52" y="384.0" font-size="23.5">20</text>
<text transform="translate(20.3,280.9) rotate(-90)" font-size="28.3">Heterozygosity</text>
<text transform="translate(735.8,308.5) rotate(-90)" font-size="28.3">Number of clusters</text>
<text x="375.55" y="431.7" font-size="30" font-style="italic" text-anchor="middle">t</text>
<text x="1084.40" y="431.7" font-size="30" font-style="italic" text-anchor="middle">t</text>
</g>
<rect x="107.50" y="39.00" width="84" height="77.5" fill="#fff" stroke="#000" stroke-width="1.1"/>
<rect x="116.80" y="49.40" width="8.6" height="8.6" fill="#000" stroke="#000" stroke-width="0.5"/>
<text x="131.20" y="57.90" font-family="Liberation Sans, sans-serif" font-weight="bold" font-size="14" stroke="#000" stroke-width="0.35">Tracers</text>
<rect x="116.80" y="64.10" width="8.6" height="8.6" fill="#5a80e6" stroke="#4a6ccc" stroke-width="0.5"/>
<text x="131.20" y="72.60" font-family="Liberation Sans, sans-serif" font-weight="bold" font-size="14" stroke="#000" stroke-width="0.35">Rep1</text>
<rect x="116.80" y="79.70" width="8.6" height="8.6" fill="#f7a124" stroke="#d88a1c" stroke-width="0.5"/>
<text x="131.20" y="88.00" font-family="Liberation Sans, sans-serif" font-weight="bold" font-size="14" stroke="#000" stroke-width="0.35">Rep2</text>
<rect x="116.80" y="95.30" width="8.6" height="8.6" fill="#6aac2e" stroke="#5a9626" stroke-width="0.5"/>
<text x="131.20" y="102.80" font-family="Liberation Sans, sans-serif" font-weight="bold" font-size="14" stroke="#000" stroke-width="0.35">Hyp2</text>
<rect x="809.50" y="15.50" width="84" height="77.5" fill="#fff" stroke="#000" stroke-width="1.1"/>
<rect x="818.80" y="25.90" width="8.6" height="8.6" fill="#000" stroke="#000" stroke-width="0.5"/>
<text x="833.20" y="34.40" font-family="Liberation Sans, sans-serif" font-weight="bold" font-size="14" stroke="#000" stroke-width="0.35">Tracers</text>
<rect x="818.80" y="40.60" width="8.6" height="8.6" fill="#5a80e6" stroke="#4a6ccc" stroke-width="0.5"/>
<text x="833.20" y="49.10" font-family="Liberation Sans, sans-serif" font-weight="bold" font-size="14" stroke="#000" stroke-width="0.35">Rep1</text>
<rect x="818.80" y="56.20" width="8.6" height="8.6" fill="#f7a124" stroke="#d88a1c" stroke-width="0.5"/>
<text x="833.20" y="64.50" font-family="Liberation Sans, sans-serif" font-weight="bold" font-size="14" stroke="#000" stroke-width="0.35">Rep2</text>
<rect x="818.80" y="71.80" width="8.6" height="8.6" fill="#6aac2e" stroke="#5a9626" stroke-width="0.5"/>
<text x="833.20" y="79.30" font-family="Liberation Sans, sans-serif" font-weight="bold" font-size="14" stroke="#000" stroke-width="0.35">Hyp2</text>
</svg>
</body></html>
